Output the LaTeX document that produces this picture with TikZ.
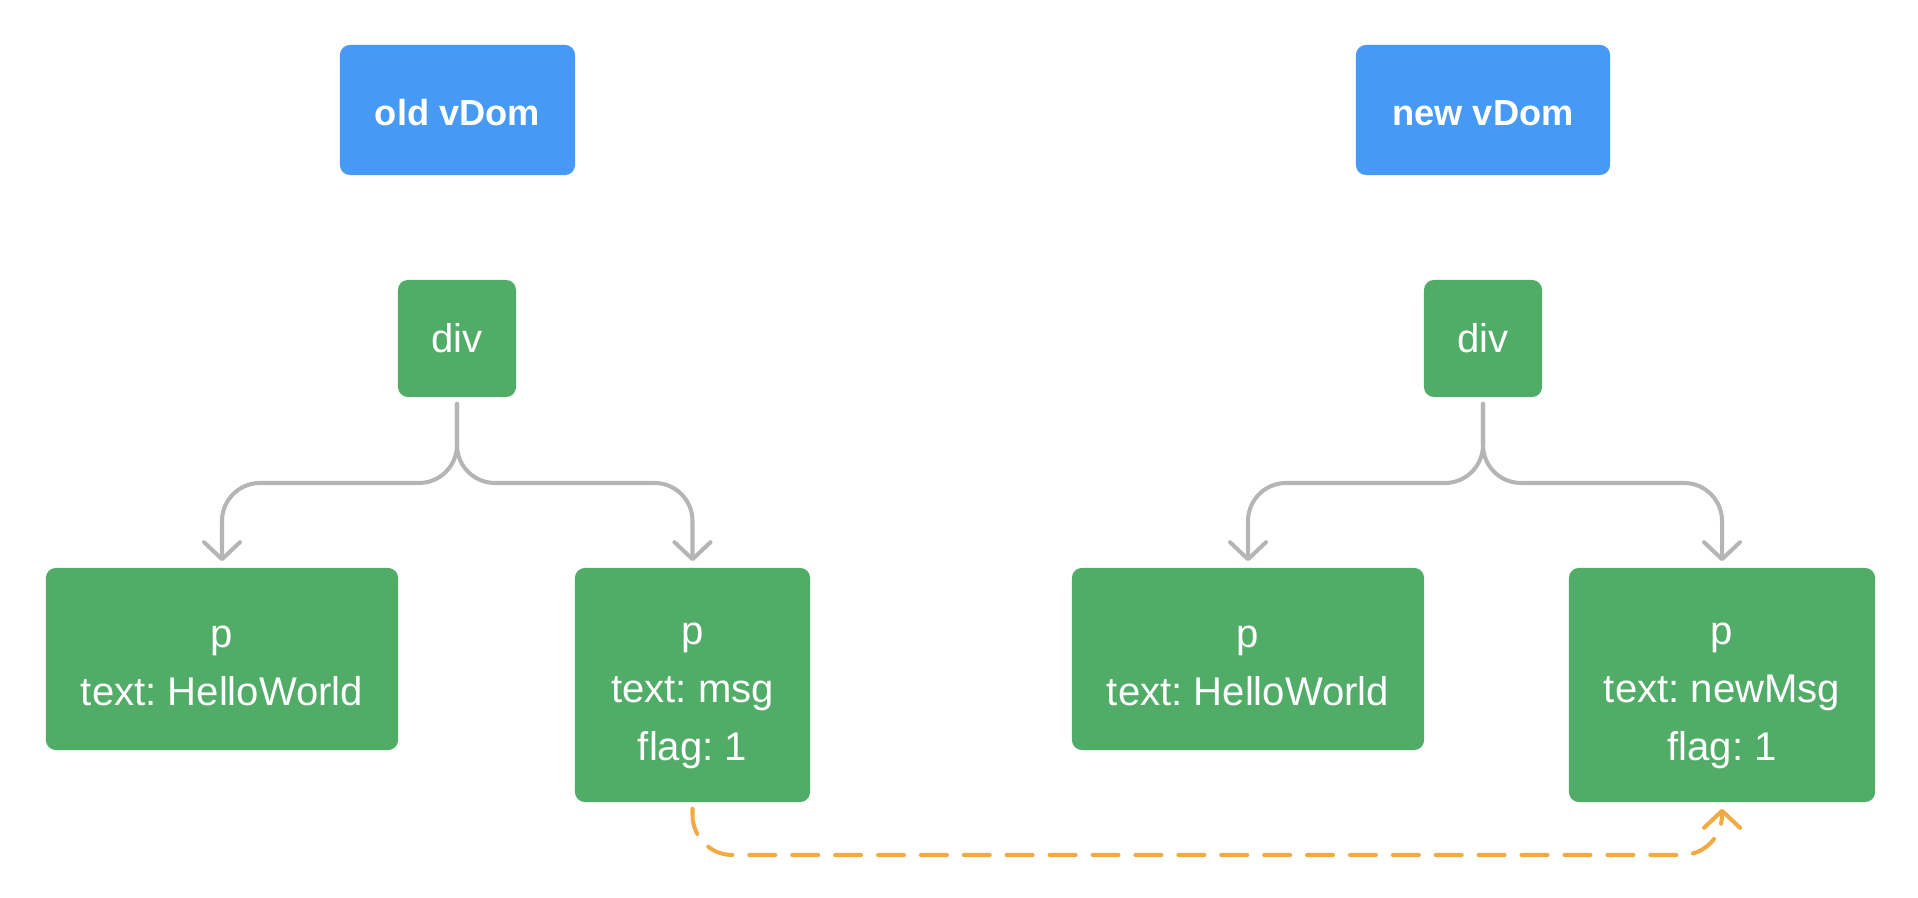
\documentclass[tikz,border=0pt]{standalone}
\usepackage{fontspec}
\setmainfont{Liberation Sans}
\usetikzlibrary{arrows.meta}
\frenchspacing
\definecolor{hdrblue}{RGB}{71,153,246}
\definecolor{nodegreen}{RGB}{81,172,104}
\definecolor{conngray}{RGB}{181,181,181}
\definecolor{linkorange}{RGB}{243,170,69}
\newcommand\lnstrut{\rule[-3.4pt]{0pt}{16.5pt}}
\newcommand\hdstrut{\rule[-1.42pt]{0pt}{11.66pt}}
\tikzset{
  hdrbox/.style={fill=hdrblue, draw=none, rounded corners=0.1cm, text=white, inner sep=0pt,
    font=\fontsize{10.3pt}{12pt}\selectfont\bfseries, align=center},
  vbox/.style={fill=nodegreen, draw=none, rounded corners=0.1cm, text=white, inner sep=0pt,
    font=\fontsize{11.4pt}{16.5pt}\selectfont, align=center},
  conn/.style={draw=conngray, line width=1.15pt, line cap=round, line join=round, rounded corners=0.38cm,
    -{Straight Barb[length=1.7mm,width=3.6mm,round]}, shorten <=0.06cm, shorten >=0.06cm},
  link/.style={draw=linkorange, line width=1.15pt, line cap=round, rounded corners=0.4cm,
    dash pattern=on 7.4pt off 4.8pt, -{Straight Barb[length=1.7mm,width=3.6mm,round]},
    shorten <=0.06cm, shorten >=0.06cm}
}
\begin{document}
\begin{tikzpicture}[x=0.01cm,y=-0.01cm]
\useasboundingbox (0,0) rectangle (1918,898);
\node[hdrbox, minimum width=2.35cm, minimum height=1.30cm] (old) at (457.5,110) {\hdstrut old vDom};
\node[hdrbox, minimum width=2.54cm, minimum height=1.30cm] (new) at (1483,110) {\hdstrut new vDom};
\node[vbox, minimum width=1.18cm, minimum height=1.17cm] (dl) at (457,338.5) {div};
\node[vbox, minimum width=1.18cm, minimum height=1.17cm] (dr) at (1483,338.5) {div};
\node[vbox, minimum width=3.52cm, minimum height=1.82cm] (p1) at (222,659) {\lnstrut p\\\lnstrut text: HelloWorld};
\node[vbox, minimum width=2.35cm, minimum height=2.34cm] (p2) at (692.5,685) {\lnstrut p\\\lnstrut text: msg\\\lnstrut flag: 1};
\node[vbox, minimum width=3.52cm, minimum height=1.82cm] (p3) at (1248,659) {\lnstrut p\\\lnstrut text: HelloWorld};
\node[vbox, minimum width=3.06cm, minimum height=2.34cm] (p4) at (1722,685) {\lnstrut p\\\lnstrut text: newMsg\\\lnstrut flag: 1};
\coordinate (busl) at (457,483);
\coordinate (busr) at (1483,483);
\coordinate (lowy) at (0,855);
\draw[conn] (dl.south) -- (busl) -| (p1.north);
\draw[conn] (dl.south) -- (busl) -| (p2.north);
\draw[conn] (dr.south) -- (busr) -| (p3.north);
\draw[conn] (dr.south) -- (busr) -| (p4.north);
\draw[link] (p2.south) |- (lowy -| p4.south) -- (p4.south);
\end{tikzpicture}
\end{document}
